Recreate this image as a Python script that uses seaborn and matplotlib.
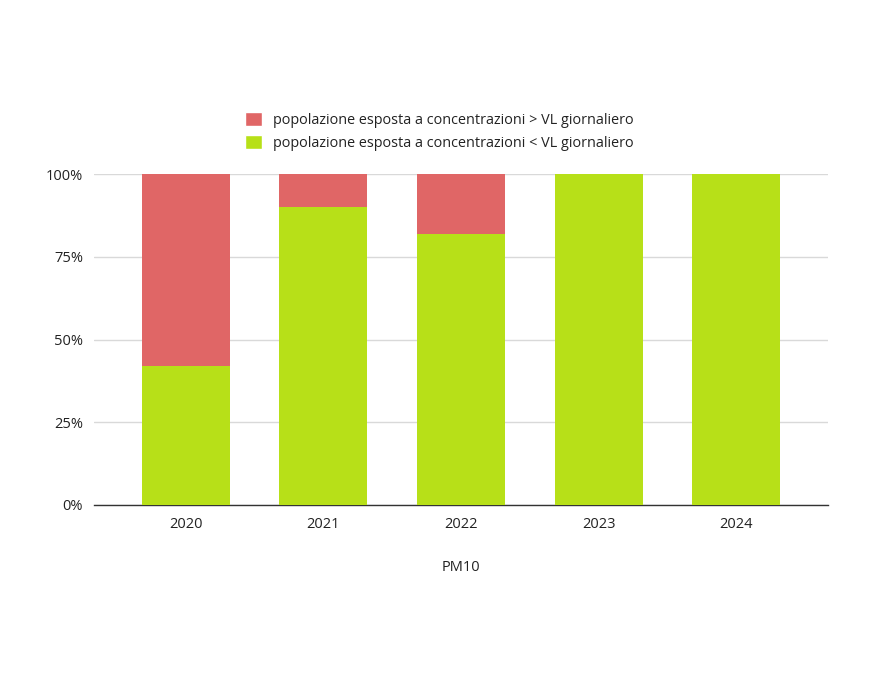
import pandas as pd
import matplotlib.pyplot as plt
import seaborn as sns
from matplotlib.ticker import PercentFormatter
from matplotlib.patches import Patch

# data (share of population, %)
years = ["2020", "2021", "2022", "2023", "2024"]
below_vl = [42, 90, 82, 100, 100]
above_vl = [58, 10, 18, 0, 0]
label_above = "popolazione esposta a concentrazioni > VL giornaliero"
label_below = "popolazione esposta a concentrazioni < VL giornaliero"

red = "#e06666"
green = "#b7e018"

df = pd.DataFrame({"year": years, "below": below_vl, "above": above_vl})
df["total"] = df["below"] + df["above"]

sns.set_style("white")
plt.rcParams["font.family"] = ["Open Sans", "DejaVu Sans"]

fig = plt.figure(figsize=(8.82, 6.82), dpi=100)
ax = fig.add_axes([94 / 882, 1 - 505 / 682, (828 - 94) / 882, (505 - 174) / 682])

# stacked: red drawn as full height, green drawn over it
sns.barplot(data=df, x="year", y="total", color=red, width=0.64,
            saturation=1, linewidth=0, ax=ax, zorder=2)
sns.barplot(data=df, x="year", y="below", color=green, width=0.64,
            saturation=1, linewidth=0, ax=ax, zorder=3)

ax.set_xlim(-0.669, 4.669)
ax.set_ylim(0, 100)
ax.set_yticks([0, 25, 50, 75, 100])
ax.yaxis.set_major_formatter(PercentFormatter(decimals=0))
ax.grid(axis="y", color="#d9d9d9", linewidth=1, zorder=0)
ax.set_axisbelow(True)

for side in ["top", "right", "left"]:
    ax.spines[side].set_visible(False)
ax.spines["bottom"].set_color("#333333")
ax.spines["bottom"].set_linewidth(1)

ax.tick_params(axis="both", length=0, labelsize=10.5, colors="#222222")
ax.tick_params(axis="x", pad=9)
ax.tick_params(axis="y", pad=8)
ax.set_ylabel("")
ax.set_xlabel("PM10", fontsize=10.5, color="#222222", labelpad=20)

handles = [Patch(facecolor=red, label=label_above),
           Patch(facecolor=green, label=label_below)]
fig.legend(handles=handles, loc="upper left",
           bbox_to_anchor=(232 / 882, 1 - 99 / 682), frameon=False,
           fontsize=10.4, handlelength=1.15, handleheight=1.15,
           handletextpad=0.8, labelspacing=0.45, labelcolor="#222222")

fig.savefig("out.png", dpi=100)
